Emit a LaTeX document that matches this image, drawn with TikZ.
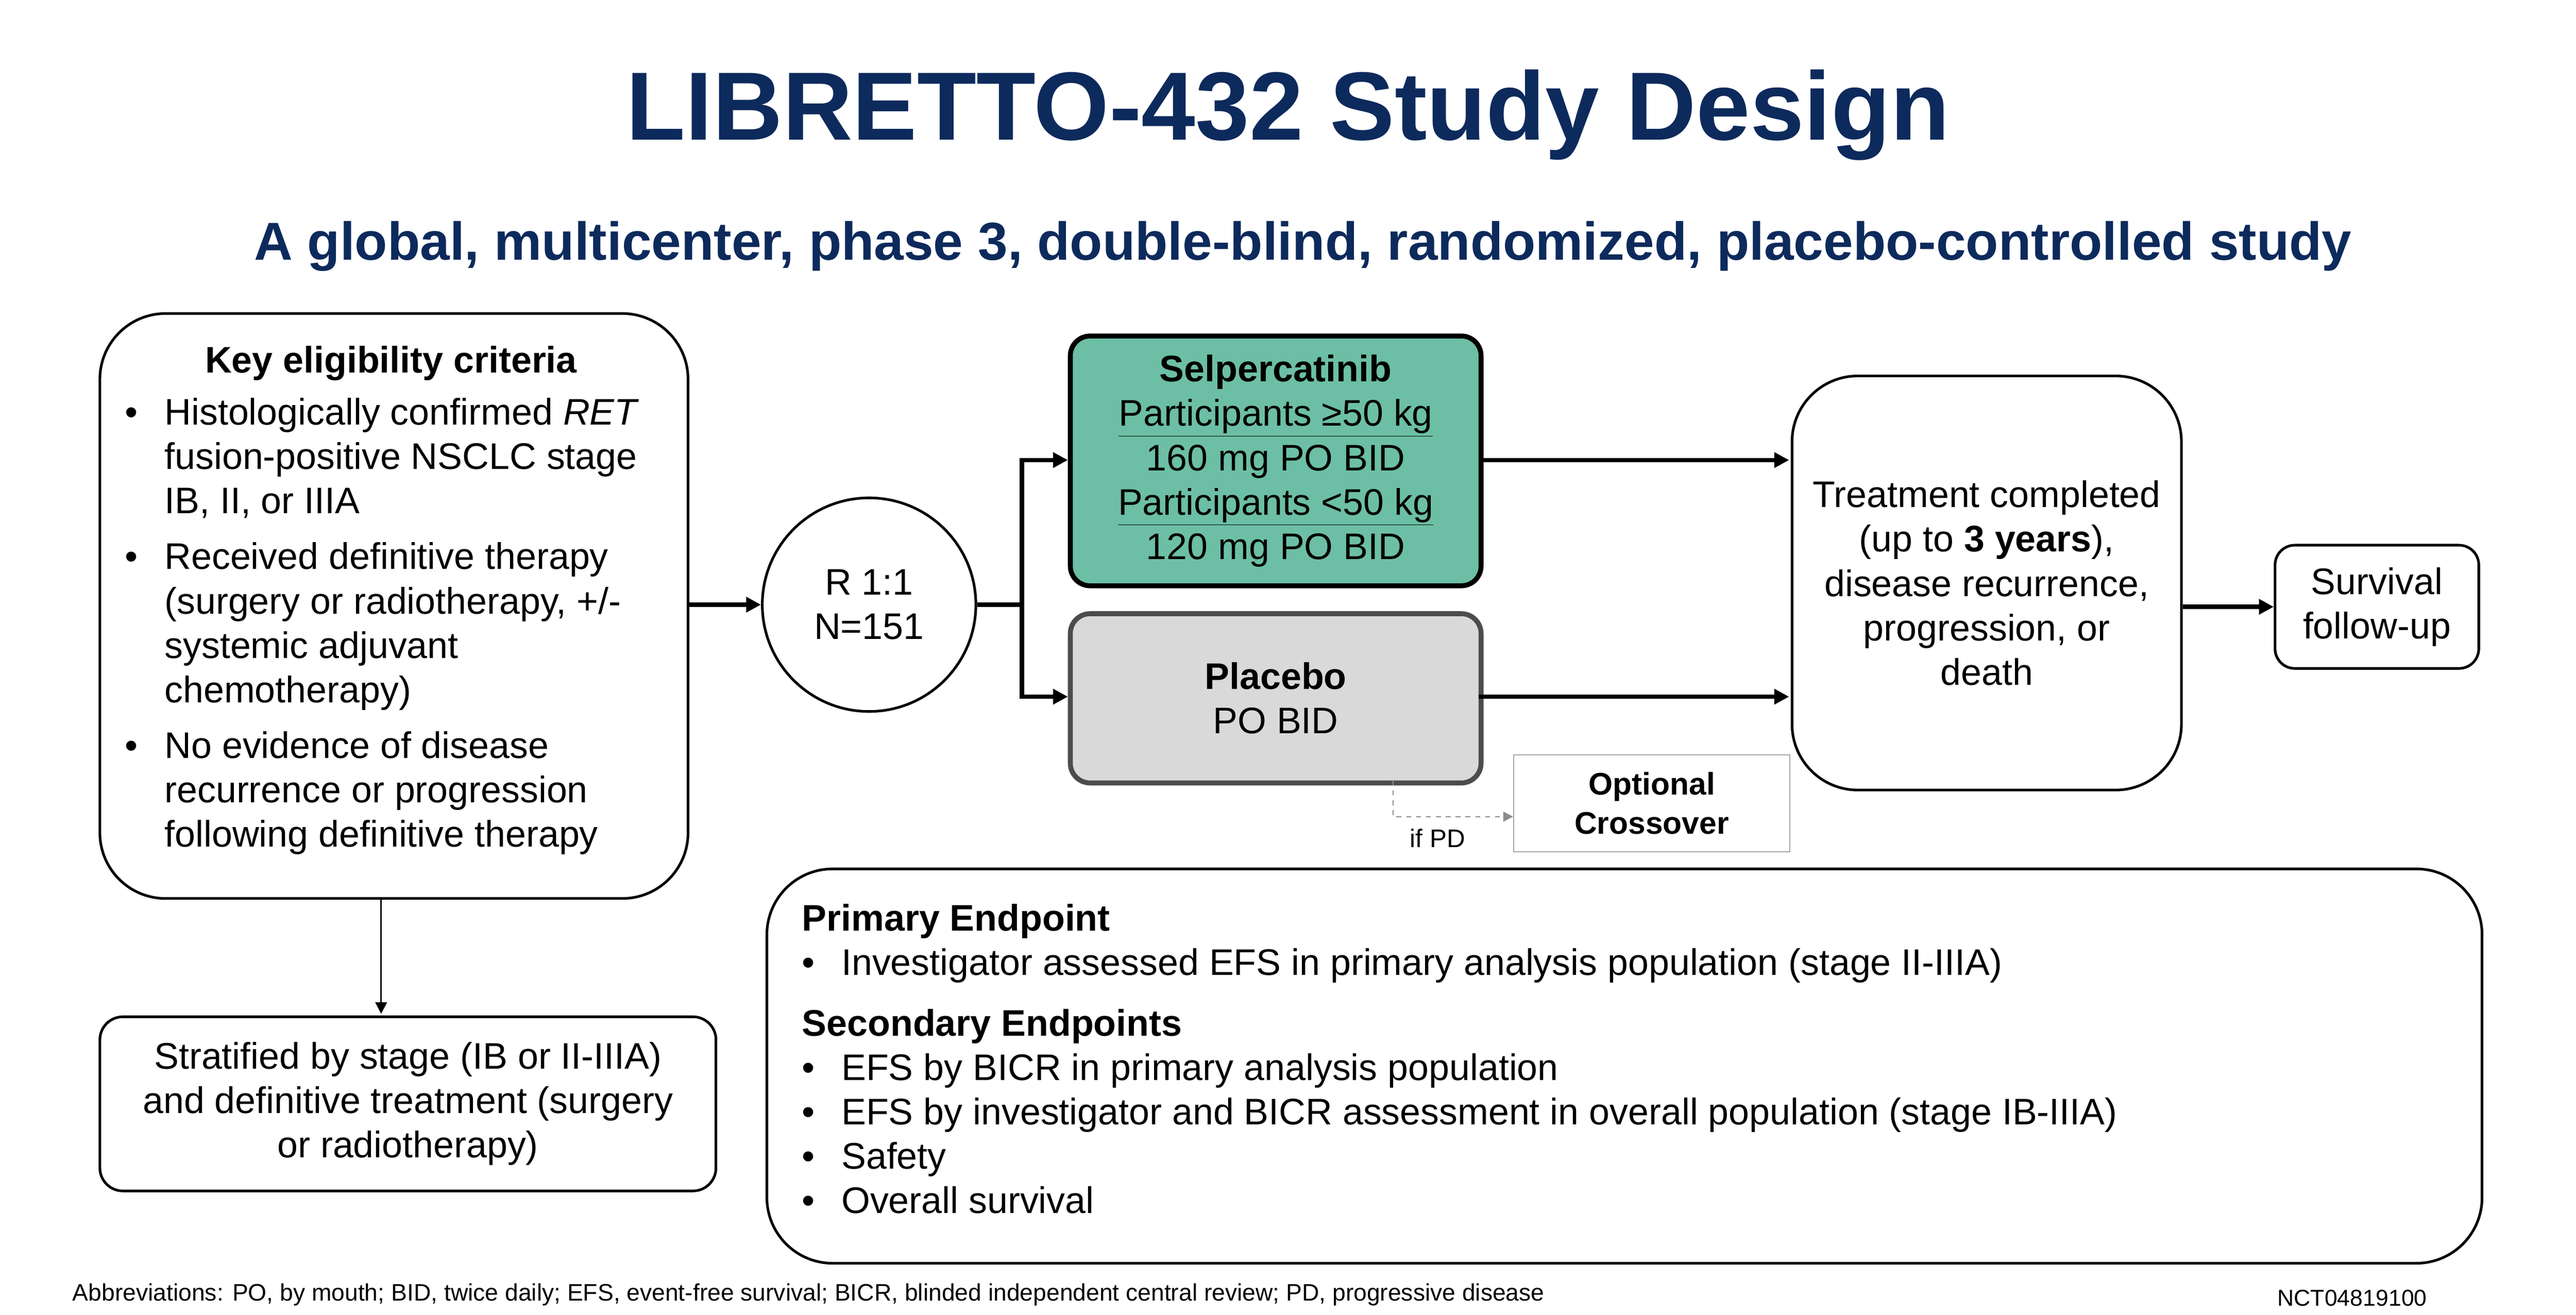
\documentclass[tikz,border=0pt]{standalone}
\usepackage{fontspec}
\setmainfont{Liberation Sans}
\usetikzlibrary{arrows.meta}
\definecolor{navy}{HTML}{0D2A5C}
\definecolor{grn}{HTML}{6CBFA5}
\definecolor{gry}{HTML}{D9D9D9}
\begin{document}
\begin{tikzpicture}[x=1pt,y=-1pt,
  box/.style={draw=black,line width=1.6pt},
  txt/.style={font=\fontsize{22.5}{27}\selectfont,align=center,inner sep=0},
  arr/.style={line width=2.6pt,-{Triangle[length=9pt,width=9pt]}}]
\useasboundingbox (0,0) rectangle (1568,800);
\fill[white] (0,0) rectangle (1568,800);
\node[font=\fontsize{59}{64}\selectfont\bfseries,text=navy] (title) at (784,70) {LIBRETTO-432 Study Design};
\node[font=\fontsize{32.5}{36}\selectfont\bfseries,text=navy] (sub) at (793,150) {A global, multicenter, phase 3, double-blind, randomized, placebo-controlled study};
% eligibility
\node[box,rounded corners=40,minimum width=358,minimum height=356,anchor=north west] (elig) at (60,190) {};
\node[txt,font=\fontsize{22.5}{27}\selectfont\bfseries] (eh) at (238,221) {Key eligibility criteria};
\node[txt,align=left,anchor=north west] (el) at (76,242) {%
\makebox[24pt][l]{•}Histologically confirmed \textit{RET}\\
\makebox[24pt][l]{}fusion-positive NSCLC stage\\
\makebox[24pt][l]{}IB, II, or IIIA\\[7pt]
\makebox[24pt][l]{•}Received definitive therapy\\
\makebox[24pt][l]{}(surgery or radiotherapy, +/-\\
\makebox[24pt][l]{}systemic adjuvant\\
\makebox[24pt][l]{}chemotherapy)\\[7pt]
\makebox[24pt][l]{•}No evidence of disease\\
\makebox[24pt][l]{}recurrence or progression\\
\makebox[24pt][l]{}following definitive therapy};
% stratified
\node[box,rounded corners=14,minimum width=375,minimum height=106,anchor=north west] (strat) at (60,618) {};
\node[txt] (st) at (strat.center) {Stratified by stage (IB or II-IIIA)\\and definitive treatment (surgery\\or radiotherapy)};
\coordinate (eb) at (232,546);
\draw[line width=1pt,-{Triangle[length=7pt,width=7pt]}] (eb) -- (232,617);
% circle
\node[circle,draw,line width=1.6pt,minimum size=130,txt] (R) at (529,368) {R 1:1\\N=151};
\coordinate (er) at (418,368);
\draw[arr] (er) -- (R.west);
\coordinate (sp) at (622,368);
\draw[line width=2.6pt] (R.east) -- (sp);
% selpercatinib
\node[draw,line width=3pt,fill=grn,rounded corners=12,minimum width=250,minimum height=152,anchor=north west] (sel) at (650,203) {};
\node[txt] (selt) at (sel.center) {\textbf{Selpercatinib}\\\underline{Participants ≥50 kg}\\160 mg PO BID\\\underline{Participants <50 kg}\\120 mg PO BID};
\node[draw=black!70,line width=3pt,fill=gry,rounded corners=12,minimum width=250,minimum height=103,anchor=north west] (pla) at (650,372) {};
\node[txt] (plat) at (pla.center) {\textbf{Placebo}\\PO BID};
\draw[arr] (sp) -- (622,280) -- (650,280);
\draw[arr] (sp) -- (622,424) -- (650,424);
% treatment
\node[box,rounded corners=40,minimum width=237,minimum height=252,anchor=north west] (tr) at (1090,228) {};
\node[txt] (trt) at (tr.center) {Treatment completed\\(up to \textbf{3 years}),\\disease recurrence,\\progression, or\\death};
\draw[arr] (900,280) -- (1089,280);
\draw[arr] (900,424) -- (1089,424);
\node[box,rounded corners=12,minimum width=124,minimum height=75,anchor=north west] (surv) at (1384,331) {};
\node[txt] (svt) at (surv.center) {Survival\\follow-up};
\draw[arr] (tr.east |- surv.west) -- (surv.west);
% crossover
\node[draw=black!35,line width=0.8pt,minimum width=168,minimum height=59,anchor=north west] (cross) at (921,459) {};
\node[txt,font=\fontsize{19}{24}\selectfont\bfseries] (ct) at (cross.center) {Optional\\Crossover};
\draw[black!45,dashed,line width=0.8pt,-{Triangle[length=6pt,width=6pt]}] (848,475) -- (848,497) -- (cross.west |- 0,497);
\node[font=\fontsize{15.5}{18}\selectfont] (ifpd) at (875,510) {if PD};
% endpoints
\node[box,rounded corners=40,minimum width=1044,minimum height=240,anchor=north west] (ep) at (466,528) {};
\node[txt,align=left,anchor=north west] (ept) at (488,550) {%
\textbf{Primary Endpoint}\\
\makebox[24pt][l]{•}Investigator assessed EFS in primary analysis population (stage II-IIIA)\\[10pt]
\textbf{Secondary Endpoints}\\
\makebox[24pt][l]{•}EFS by BICR in primary analysis population\\
\makebox[24pt][l]{•}EFS by investigator and BICR assessment in overall population (stage IB-IIIA)\\
\makebox[24pt][l]{•}Safety\\
\makebox[24pt][l]{•}Overall survival};
\node[font=\fontsize{14.5}{16}\selectfont,anchor=west,inner sep=0] (abbr) at (44,788) {Abbreviations: PO, by mouth; BID, twice daily; EFS, event-free survival; BICR, blinded independent central review; PD, progressive disease};
\node[font=\fontsize{14}{16}\selectfont,anchor=west,inner sep=0] (nct) at (1386,790) {NCT04819100};
\end{tikzpicture}
\end{document}
